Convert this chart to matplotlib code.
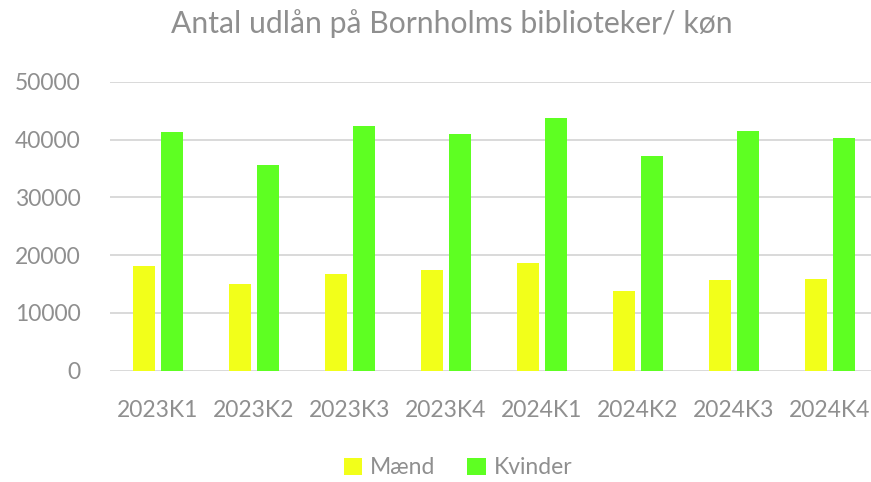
import matplotlib
matplotlib.use("Agg")
import matplotlib.pyplot as plt
import numpy as np
from matplotlib.patches import Patch

categories = ["2023K1", "2023K2", "2023K3", "2023K4", "2024K1", "2024K2", "2024K3", "2024K4"]
maend = [18100, 15050, 16780, 17420, 18690, 13740, 15690, 15870]
kvinder = [41350, 35590, 42340, 40950, 43720, 37200, 41470, 40210]
yticks = [0, 10000, 20000, 30000, 40000, 50000]

YELLOW = "#F2FF1A"
GREEN = "#5EFF22"
TXT = "#8F8F8F"
GRID = "#D9D9D9"

plt.rcParams['font.family'] = ['Lato', 'DejaVu Sans']

W, H = 871, 482
fig = plt.figure(figsize=(W / 100, H / 100), dpi=100)
ax_left, ax_right = 110, 871
ax_top, ax_bottom = 81.7, 370.7
ax = fig.add_axes([ax_left / W, (H - ax_bottom) / H, (ax_right - ax_left) / W, (ax_bottom - ax_top) / H])

x = np.arange(len(categories))
bw = 0.226
off = 0.143
ax.bar(x - off, maend, width=bw, color=YELLOW, zorder=3, label="Mænd")
ax.bar(x + off, kvinder, width=bw, color=GREEN, zorder=3, label="Kvinder")

ax.set_xlim(-0.5, -0.5 + (ax_right - ax_left) / 96.0)
ax.set_ylim(0, 50000)
ax.set_yticks(yticks)
ax.set_yticklabels([str(v) for v in yticks])
ax.set_xticks(x)
ax.set_xticklabels(categories)
ax.grid(axis='y', color=GRID, linewidth=1.4, zorder=0)
ax.set_axisbelow(True)
for s in ax.spines.values():
    s.set_visible(False)
ax.tick_params(axis='both', length=0, colors=TXT, labelsize=16.5)
ax.tick_params(axis='y', pad=21)
ax.tick_params(axis='x', pad=21)

fig.text(452 / W, 1 - 24 / H, "Antal udlån på Bornholms biblioteker/ køn", ha='center', va='center',
         fontsize=21.7, color=TXT)

handles = [Patch(facecolor=YELLOW, edgecolor='none', label="Mænd"),
           Patch(facecolor=GREEN, edgecolor='none', label="Kvinder")]
leg = fig.legend(handles=handles, loc='center', bbox_to_anchor=(458 / W, 1 - 468 / H), ncol=2,
                 frameon=False, fontsize=16.5, handlelength=0.8, handleheight=0.8,
                 handletextpad=0.35, columnspacing=1.4)
for t in leg.get_texts():
    t.set_color(TXT)

fig.savefig("out.png", dpi=100)
